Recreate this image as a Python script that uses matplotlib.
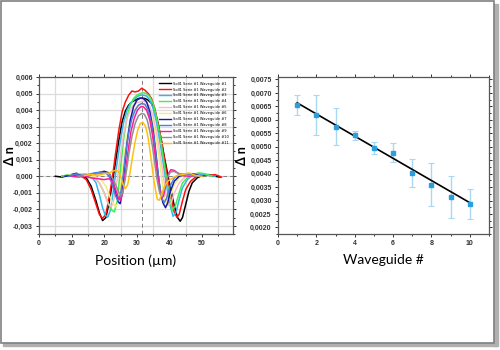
import numpy as np
import matplotlib
matplotlib.use('Agg')
import matplotlib.pyplot as plt
from matplotlib.patches import Rectangle
from matplotlib.ticker import MultipleLocator, FuncFormatter
from matplotlib.transforms import IdentityTransform

# index profiles, delta n in units of 1e-3 vs position in um
wg1_x = [5, 7, 9, 11.5, 13, 14.5, 16, 17.5, 18.5, 19.5, 20.5, 21.5, 22.5, 23.5, 24.5, 25.5, 26.5, 27.5, 28.5, 29.5,
         30.5, 31.5, 32.5, 33.5, 34.5, 35.5, 36.5, 37.5, 38.5, 39.5, 40.5, 41.5, 42.5, 43.3, 44, 45, 46, 47, 48.5,
         50, 52, 54, 55.5]
wg1_y = [0, -0.05, 0.05, 0.18, 0.05, -0.1, -0.6, -1.5, -2.2, -2.68, -2.5, -1.6, -0.4, 0.9, 2.2, 3.3, 3.95, 4.3, 4.5,
         4.6, 4.7, 4.72, 4.7, 4.6, 4.4, 4.0, 3.2, 2.2, 1.1, 0.1, -0.9, -1.8, -2.5, -2.72, -2.5, -1.7, -0.9, -0.4,
         -0.1, 0.05, 0.1, 0.0, -0.05]
wg2_x = [7, 9, 11, 13, 14.5, 16, 17.5, 18.5, 19.5, 20.5, 21.5, 22.5, 23.5, 24.5, 25.5, 26.5, 27.5, 28.5, 29.5, 30.5,
         31.5, 32.5, 33.5, 34.5, 35.5, 36.5, 37.5, 38.5, 39.5, 40.5, 41.5, 42.3, 43, 44, 45, 46.5, 48, 50, 52, 54, 56]
wg2_y = [0, 0.05, 0.1, 0, -0.2, -0.8, -1.7, -2.3, -2.55, -2.3, -1.3, -0.1, 1.4, 2.8, 3.9, 4.5, 4.9, 5.15, 5.1, 5.15,
         5.32, 5.2, 5.0, 4.7, 4.1, 3.2, 2.2, 1.0, -0.2, -1.3, -2.2, -2.48, -2.3, -1.5, -0.8, -0.3, -0.05, 0.1, 0.05,
         0.1, -0.05]
wg3_x = [8, 10, 12, 14, 16, 17.5, 18.5, 19.5, 20.3, 21.1, 22, 23, 24, 25, 26, 27, 28, 29, 30, 31, 32, 33, 34, 35, 36,
         37, 38, 39, 40, 41.1, 42, 43, 44, 45.5, 47, 49, 51, 54]
wg3_y = [0, 0.1, 0.1, 0.15, 0.0, -0.4, -1.1, -1.9, -2.35, -2.47, -2.0, -0.6, 0.9, 2.2, 3.3, 4.0, 4.4, 4.6, 4.8, 4.9,
         4.9, 4.85, 4.6, 4.1, 3.3, 2.2, 0.9, -0.4, -1.6, -2.42, -2.2, -1.4, -0.7, -0.2, 0.05, 0.15, 0.1, 0.0]
wg4_x = [7, 9, 11, 13, 15, 17, 18.5, 20, 21, 22, 23.1, 24, 25, 26, 27, 28, 29, 30, 31, 32, 33, 34, 35, 36, 37, 38, 39,
         40, 40.8, 41.8, 43, 44, 45.5, 47, 49, 51, 53]
wg4_y = [0, 0.1, 0.05, 0.15, 0.1, -0.1, -0.4, -1.0, -1.5, -2.0, -2.16, -1.5, 0.5, 2.3, 3.6, 4.3, 4.7, 4.9, 5.0, 5.05,
         5.0, 4.8, 4.4, 3.6, 2.6, 1.3, 0.0, -1.3, -2.06, -1.8, -1.0, -0.4, -0.1, 0.1, 0.2, 0.15, 0.0]
wg5_x = [9, 11, 13, 15, 17, 18.5, 19.5, 20.5, 21.3, 22.2, 23, 24, 25, 26, 27, 28, 29, 30, 31, 32, 33, 34, 35, 36, 37,
         38, 38.8, 39.6, 40.5, 41.5, 43, 44.5, 46, 48, 50]
wg5_y = [0.05, 0.1, 0.15, 0.1, -0.1, -0.4, -0.8, -1.3, -1.7, -1.85, -1.4, -0.2, 1.3, 2.6, 3.5, 4.0, 4.3, 4.45, 4.5,
         4.55, 4.45, 4.2, 3.6, 2.7, 1.5, 0.2, -0.9, -1.75, -1.6, -1.0, -0.4, -0.1, 0.05, 0.1, 0.0]
wg6_x = [9, 11, 13, 15, 17, 19, 20.5, 21.5, 22.5, 23.5, 24.3, 25, 26, 27, 28, 29, 30, 31, 32, 33, 34, 35, 36, 37,
         37.8, 38.5, 39.3, 40.2, 41.5, 43, 45, 47, 49]
wg6_y = [0.05, 0.1, 0.1, 0.05, 0.0, -0.2, -0.6, -1.1, -1.6, -1.85, -1.6, -0.6, 1.0, 2.4, 3.4, 3.9, 4.2, 4.3, 4.3, 4.2,
         3.9, 3.2, 2.2, 0.9, -0.4, -1.4, -1.65, -1.2, -0.5, -0.1, 0.1, 0.05, 0.0]
wg7_x = [8, 10, 12, 14, 16, 18, 20, 21.5, 22.5, 23.5, 24.3, 24.9, 25.5, 26.2, 27, 28, 29, 30, 31, 32, 33, 34, 35,
         35.8, 36.5, 37.2, 38, 38.8, 39.5, 40.3, 41.5, 43, 45, 47, 50]
wg7_y = [0, 0.05, 0.1, 0.0, 0.1, 0.2, 0.3, 0.2, -0.3, -1.0, -1.55, -1.66, -1.0, 0.5, 2.0, 3.4, 4.2, 4.6, 4.72, 4.7,
         4.5, 3.9, 2.8, 1.5, 0.2, -0.9, -1.6, -1.9, -1.6, -0.9, -0.3, 0.0, 0.1, 0.15, 0.0]
wg8_x = [9, 11, 13, 15, 17, 19, 20.5, 21.5, 22.5, 23.5, 24.3, 25, 25.8, 26.5, 27.5, 28.5, 29.5, 30.5, 31.5, 32.5,
         33.5, 34.5, 35.3, 36, 36.8, 37.6, 38.4, 39.2, 40.2, 41.5, 43, 45, 47, 49]
wg8_y = [0, 0.1, 0.05, 0.1, 0.2, 0.25, 0.2, 0.0, -0.5, -1.2, -1.5, -1.1, 0.0, 1.3, 2.6, 3.5, 4.0, 4.3, 4.4, 4.35,
         4.0, 3.2, 2.2, 1.0, -0.3, -1.3, -1.6, -1.3, -0.6, -0.1, 0.1, 0.15, 0.05, 0.0]
wg9_x = [10, 12, 14, 16, 18, 20, 21.5, 22.5, 23.5, 24.3, 25, 25.7, 26.5, 27.3, 28.2, 29.2, 30.2, 31.2, 32, 33, 34,
         34.8, 35.5, 36.2, 36.9, 37.5, 38.2, 39, 39.8, 40.5, 41.5, 42.5, 44, 46, 48]
wg9_y = [0, -0.05, 0.0, -0.1, -0.15, -0.2, -0.15, -0.3, -0.8, -1.3, -1.45, -1.0, 0.2, 1.5, 2.7, 3.5, 4.0, 4.2, 4.2,
         4.0, 3.4, 2.5, 1.4, 0.3, -0.7, -1.35, -1.2, -0.4, 0.2, 0.4, 0.35, 0.2, 0.05, 0.0, 0.0]
wg10_x = [12, 14, 16, 18, 20, 21.5, 22.5, 23.5, 24.5, 25.3, 26, 26.8, 27.6, 28.5, 29.5, 30.5, 31.5, 32.3, 33.2, 34,
          34.8, 35.5, 36.2, 36.9, 37.6, 38.4, 39.3, 40.3, 41.3, 42.5, 44, 46, 48]
wg10_y = [0, 0.05, 0.1, 0.15, 0.2, 0.15, -0.1, -0.5, -1.0, -1.15, -0.7, 0.3, 1.4, 2.4, 3.2, 3.65, 3.8, 3.75, 3.4,
          2.7, 1.8, 0.8, -0.2, -0.9, -1.2, -0.8, -0.1, 0.25, 0.3, 0.2, 0.1, 0.05, 0.0]
wg11_x = [14, 16, 18, 20, 21.5, 22.5, 23.5, 24.3, 25, 25.8, 26.5, 27.2, 27.9, 28.7, 29.5, 30.3, 31.1, 31.9, 32.7,
          33.4, 34, 34.6, 35.2, 35.8, 36.3, 36.9, 37.6, 38.5, 39.5, 41, 42.5, 44, 46, 48, 50]
wg11_y = [0.05, 0.1, 0.05, 0.15, 0.2, 0.3, 0.36, 0.3, 0.0, -0.5, -0.75, -0.5, 0.2, 1.2, 2.1, 2.8, 3.2, 3.25, 3.0,
          2.4, 1.6, 0.7, -0.2, -0.9, -1.4, -1.45, -1.1, -0.6, -0.3, -0.1, 0.05, 0.1, 0.2, 0.05, 0.0]

profile_x = [wg1_x, wg2_x, wg3_x, wg4_x, wg5_x, wg6_x, wg7_x, wg8_x, wg9_x, wg10_x, wg11_x]
profile_y = [wg1_y, wg2_y, wg3_y, wg4_y, wg5_y, wg6_y, wg7_y, wg8_y, wg9_y, wg10_y, wg11_y]
colors = ['#000000', '#ff1010', '#30b8ee', '#40ee50', '#ffb8c8', '#eeee80',
          '#1a1aa0', '#4a80e0', '#ff1a9a', '#909090', '#ffc010']
center_x = 31.6

# peak delta n per waveguide (1e-3) with error
waveguide = [1, 2, 3, 4, 5, 6, 7, 8, 9, 10]
dn_peak = [6.54, 6.19, 5.75, 5.42, 4.95, 4.78, 4.03, 3.59, 3.13, 2.87]
dn_err = [0.37, 0.74, 0.70, 0.18, 0.24, 0.36, 0.53, 0.79, 0.79, 0.54]

label_font = 'Lato'
tick_font = 'Liberation Sans'

fig = plt.figure(figsize=(5, 3.5), dpi=100)

# page frame with drop shadow
fig.patches.append(Rectangle((494, 4), 3.5, 342, transform=IdentityTransform(), color='#b0b0b0', zorder=0))
fig.patches.append(Rectangle((3, 4), 494, 3.5, transform=IdentityTransform(), color='#b0b0b0', zorder=0))
fig.patches.append(Rectangle((0.8, 7.5), 493, 341.7, transform=IdentityTransform(),
                             fill=False, ec='#808080', lw=1.2, zorder=1))


def comma_fmt(decimals):
    return FuncFormatter(lambda v, p: f'{v:.{decimals}f}'.replace('.', ','))


def style_axes(ax):
    for s in ax.spines.values():
        s.set_color('#555555')
        s.set_linewidth(0.9)
    ax.tick_params(which='both', direction='out', colors='#333333', labelsize=5, width=0.7,
                   top=True, right=True, pad=2)
    ax.tick_params(which='major', length=2.5)
    ax.tick_params(which='minor', length=1.5)
    for lab in ax.get_xticklabels() + ax.get_yticklabels():
        lab.set_fontfamily(tick_font)
        lab.set_fontweight('bold')


# left: index profiles
ax1 = fig.add_axes([0.078, 0.331, 0.388, 0.449])
for i in range(len(profile_x)):
    ax1.plot(profile_x[i], np.array(profile_y[i]) * 1e-3, color=colors[i], lw=1.1,
             label=f'Soll1 Serie #1 Waveguide #{i + 1}', zorder=3)
ax1.axhline(0, color='#808080', lw=0.7, ls=(0, (4, 3)), zorder=2)
ax1.axvline(center_x, color='#808080', lw=0.7, ls=(0, (4, 3)), zorder=2)
ax1.set_xlim(0, 59.5)
ax1.set_ylim(-0.0035, 0.006)
ax1.xaxis.set_major_locator(MultipleLocator(10))
ax1.xaxis.set_minor_locator(MultipleLocator(5))
ax1.yaxis.set_major_locator(MultipleLocator(0.001))
ax1.yaxis.set_minor_locator(MultipleLocator(0.0005))
ax1.yaxis.set_major_formatter(comma_fmt(3))
ax1.grid(True, which='minor', axis='x', color='#dcdcdc', lw=0.9, zorder=0)
ax1.grid(True, which='major', axis='y', color='#dcdcdc', lw=0.9, zorder=0)
style_axes(ax1)
ax1.set_xlabel('Position (µm)', fontsize=10, family=label_font, labelpad=5)
ax1.set_ylabel('Δ n', fontsize=9, family=label_font, fontweight='bold')
ax1.yaxis.set_label_coords(-0.12, 0.5)
leg = ax1.legend(loc='upper right', bbox_to_anchor=(0.99, 0.985), fontsize=2.6, frameon=False,
                 handlelength=3.2, handletextpad=0.6, labelspacing=0.55, borderaxespad=0.2)
for line in leg.get_lines():
    line.set_linewidth(1.0)

# right: peak index change vs waveguide number
ax2 = fig.add_axes([0.556, 0.331, 0.422, 0.449])
dn = np.array(dn_peak) * 1e-3
err = np.array(dn_err) * 1e-3
ax2.errorbar(waveguide, dn, yerr=err, fmt='none', ecolor='#a8d8f2', elinewidth=1.0, capsize=2, capthick=0.8,
             zorder=2)
fit = np.polyfit(waveguide, dn, 1, w=1 / err)
fit_x = np.array([waveguide[0], waveguide[-1]])
ax2.plot(fit_x, np.polyval(fit, fit_x), color='black', lw=1.2, zorder=3)
ax2.plot(waveguide, dn, 's', color='#2a9fdc', ms=3.2, mec='#2a9fdc', zorder=4)
ax2.set_xlim(0, 11)
ax2.set_ylim(0.00175, 0.00759)
ax2.xaxis.set_major_locator(MultipleLocator(2))
ax2.xaxis.set_minor_locator(MultipleLocator(1))
ax2.yaxis.set_major_locator(MultipleLocator(0.0005))
ax2.yaxis.set_minor_locator(MultipleLocator(0.00025))
ax2.yaxis.set_major_formatter(comma_fmt(4))
style_axes(ax2)
ax2.set_xlabel('Waveguide #', fontsize=10, family=label_font, labelpad=5)
ax2.set_ylabel('Δ n', fontsize=9, family=label_font, fontweight='bold')
ax2.yaxis.set_label_coords(-0.14, 0.5)

fig.savefig('out.png', dpi=100)
